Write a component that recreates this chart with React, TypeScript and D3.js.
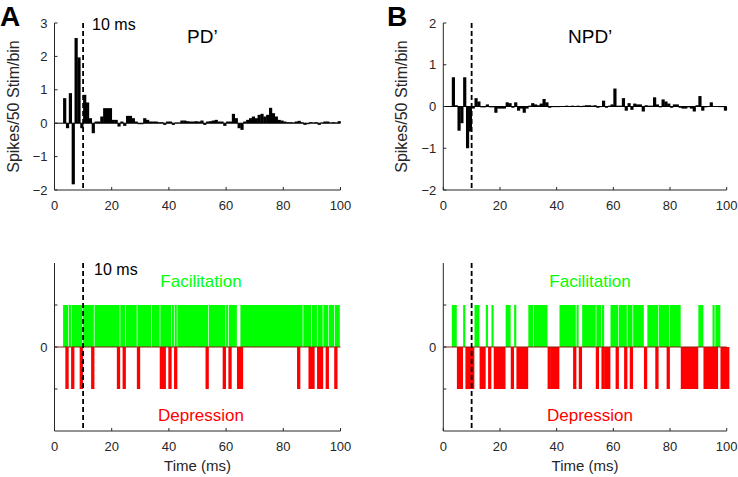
import React from "react";
import * as d3 from "d3";

// ---------- data ----------
const binStart = 3; // first 1-ms bin starts at 3 ms
const pdValues = [
  0.75, -0.15, 0.9, -1.83, 2.55, 1.97, -0.15, 0.85, 0.62, 0.15,
  -0.3, 0.05, 0.05, 0.2, 0.45, 0.45, 0.45, 0.1, 0.1, -0.1,
  0.05, -0.08, 0.22, 0.22, 0.15, 0.05, -0.03, -0.03, 0.15, 0.1,
  0.05, 0.05, 0.05, 0.03, 0.03, -0.05, 0.05, 0.05, -0.05, 0.02,
  0.02, 0.08, 0.08, 0.06, 0.05, 0.05, 0.06, 0.05, 0.08, -0.05,
  0.05, 0.06, 0.08, 0.1, 0.05, 0.05, -0.08, 0.05, 0.05, 0.28,
  0.15, -0.15, -0.2, 0.05, 0.1, 0.15, 0.2, 0.15, 0.25, 0.28,
  0.2, 0.25, 0.46, 0.3, 0.2, 0.1, 0.08, 0.05, 0.03, 0.03,
  0.02, 0.05, 0.07, 0.03, -0.05, -0.03, 0.03, 0.02, 0.03, -0.05,
  0.02, 0.05, 0.05, 0.02, 0.03, 0.02, 0.06,
];
const npdValues = [
  0.7, 0.03, -0.58, -0.4, 0.7, -1.0, -0.6, -0.05, 0.2, 0.12,
  -0.02, -0.02, 0.05, -0.02, -0.02, -0.15, -0.05, -0.05, -0.05, 0.1,
  0.08, -0.03, 0.1, -0.1, -0.05, -0.15, -0.05, 0.02, 0.08, 0.05,
  0.03, 0.07, 0.18, 0.1, -0.03, -0.01, -0.01, -0.01, 0.01, 0.01,
  0.02, 0.01, 0.02, 0.01, 0.02, -0.01, 0.02, 0.03, 0.03, 0.02,
  0.03, -0.03, 0.0, 0.14, -0.03, 0.02, 0.05, 0.43, 0.02, 0.02,
  0.2, -0.1, 0.08, -0.08, 0.07, 0.05, 0.05, -0.12, 0.03, 0.02,
  0.02, 0.22, 0.05, -0.02, 0.17, 0.12, 0.07, -0.03, 0.05, 0.05,
  -0.03, -0.05, -0.05, -0.02, -0.05, -0.12, 0.03, 0.25, -0.1, -0.02,
  0.01, 0.1, 0.01, 0.01, 0.0, 0.0, -0.1,
];

// raster runs: [first bin, last bin] (ms, inclusive, 1-ms bins)
const pdFacilitation = [
  [3, 4], [5, 5], [6, 9], [10, 13], [14, 22], [23, 24], [25, 28], [29, 33],
  [34, 36], [37, 40], [41, 41], [42, 42], [43, 53], [54, 59], [60, 60],
  [61, 63], [65, 86], [87, 89], [90, 91], [92, 93], [94, 95], [96, 97], [98, 99],
];
const pdDepression = [
  [4, 4], [6, 6], [9, 9], [13, 13], [22, 22], [24, 24], [29, 29], [37, 37],
  [38, 38], [40, 40], [42, 42], [53, 53], [59, 59], [61, 61], [64, 65],
  [85, 85], [89, 90], [92, 93], [95, 95], [98, 98],
];
const npdFacilitation = [
  [3, 4], [7, 7], [11, 12], [15, 15], [17, 17], [22, 23], [25, 25], [30, 31],
  [32, 36], [41, 46], [47, 47], [49, 53], [54, 55], [56, 56], [59, 61],
  [62, 64], [65, 66], [67, 70], [72, 75], [76, 79], [80, 83], [90, 91],
  [95, 95], [96, 97],
];
const npdDepression = [
  [5, 6], [8, 10], [13, 14], [16, 16], [18, 21], [24, 24], [26, 29], [37, 37],
  [38, 40], [46, 46], [48, 48], [54, 54], [56, 56], [57, 58], [61, 61],
  [64, 64], [66, 66], [71, 71], [75, 75], [79, 79], [84, 89], [92, 94],
  [95, 96], [98, 100],
];

const xTicks = [0, 20, 40, 60, 80, 100];
const pdYTicks = [-2, -1, 0, 1, 2, 3];
const npdYTicks = [-2, -1, 0, 1, 2];
const rasterYTicks = [-1, 0, 1];
const rasterYLabels = ["", "0", ""];
const markerMs = 10;

// ---------- layout ----------
const W = 738;
const H = 477;
const FONT = "Liberation Sans, Arial, Helvetica, sans-serif";
const AX = "#262626";
const cols = [
  { x0: 54.5, x1: 340.5 },
  { x0: 443.3, x1: 726.7 },
];
const topRow = { y0: 23, y1: 190 };
const botRow = { y0: 263, y1: 431 };

const fmt = (v: number) => (v < 0 ? "\u2212" + Math.abs(v) : String(v));

function Axes({ x, y, yTicks, yLabels, top, bottom }: any) {
  const [r0, r1] = x.range();
  const tl = 3;
  return (
    <g>
      <line x1={r0} x2={r0} y1={top} y2={bottom} stroke={AX} strokeWidth={1} />
      <line x1={r0} x2={r1} y1={bottom} y2={bottom} stroke={AX} strokeWidth={1} />
      {xTicks.map((t) => (
        <g key={"x" + t}>
          <line x1={x(t)} x2={x(t)} y1={bottom} y2={bottom - tl} stroke={AX} />
          <text x={x(t)} y={bottom + 20} textAnchor="middle" fontSize={13} fill={AX} fontFamily={FONT}>
            {t}
          </text>
        </g>
      ))}
      {yTicks.map((t: number, i: number) => (
        <g key={"y" + t}>
          <line x1={r0} x2={r0 + tl} y1={y(t)} y2={y(t)} stroke={AX} />
          <text x={r0 - 7} y={y(t)} dy="0.36em" textAnchor="end" fontSize={13} fill={AX} fontFamily={FONT}>
            {yLabels ? yLabels[i] : fmt(t)}
          </text>
        </g>
      ))}
    </g>
  );
}

function Hist({ col, values, yDomain, yTicks, title, titleX, letter, letterX }: any) {
  const x = d3.scaleLinear().domain([0, 100]).range([col.x0, col.x1]);
  const y = d3.scaleLinear().domain(yDomain).range([topRow.y1, topRow.y0]);
  return (
    <g>
      {values.map((v: number, i: number) => {
        const t = binStart + i;
        const ya = y(Math.max(0, v));
        const yb = y(Math.min(0, v));
        return (
          <rect key={i} x={x(t)} width={x(t + 1) - x(t) + 0.35} y={ya} height={Math.max(0.6, yb - ya)} fill="#000" />
        );
      })}
      <line x1={x(0)} x2={x(100)} y1={y(0)} y2={y(0)} stroke="#000" strokeWidth={1} />
      <Axes x={x} y={y} yTicks={yTicks} top={topRow.y0} bottom={topRow.y1} />
      <line x1={x(markerMs)} x2={x(markerMs)} y1={topRow.y0} y2={topRow.y1} stroke="#000" strokeWidth={1.8} strokeDasharray="5,3" />
      <text x={titleX} y={43} fontSize={19} fontFamily={FONT} fill="#000">{title}</text>
      <text
        transform={`translate(${col.x0 - 36},${(topRow.y0 + topRow.y1) / 2}) rotate(-90)`}
        textAnchor="middle" fontSize={16} fontFamily={FONT} fill={AX}
      >
        Spikes/50 Stim/bin
      </text>
      <text x={letterX} y={26} fontSize={28} fontWeight="bold" fontFamily={FONT} fill="#000">{letter}</text>
    </g>
  );
}

function Raster({ col, facil, depr, labelCx, showMs }: any) {
  const x = d3.scaleLinear().domain([0, 100]).range([col.x0, col.x1]);
  const y = d3.scaleLinear().domain([-2, 2]).range([botRow.y1, botRow.y0]);
  const runRect = (r: number[], up: boolean, color: string, k: number, pad: number) => {
    const xa = x(r[0] - pad);
    const xb = x(r[1] + 1 + pad);
    return (
      <rect key={k} x={xa} width={Math.max(0.5, xb - xa - 0.7)} y={up ? y(1) : y(0)} height={up ? y(0) - y(1) : y(-1) - y(0)} fill={color} />
    );
  };
  return (
    <g>
      {facil.map((r: number[], i: number) => runRect(r, true, "#00ff00", i, 0))}
      {depr.map((r: number[], i: number) => runRect(r, false, "#ff0000", 1000 + i, 0.2))}
      <line x1={x(0)} x2={x(100)} y1={y(0)} y2={y(0)} stroke="#8c1c13" strokeWidth={1} />
      <Axes x={x} y={y} yTicks={rasterYTicks} yLabels={rasterYLabels} top={botRow.y0} bottom={botRow.y1} />
      <line x1={x(markerMs)} x2={x(markerMs)} y1={botRow.y0} y2={botRow.y1} stroke="#000" strokeWidth={1.8} strokeDasharray="5,3" />
      {showMs && (
        <text x={x(markerMs) + 11} y={275} fontSize={16} fontFamily={FONT} fill="#000">10 ms</text>
      )}
      <text x={labelCx} y={287} textAnchor="middle" fontSize={17} fontFamily={FONT} fill="#00ff00">Facilitation</text>
      <text x={labelCx} y={421} textAnchor="middle" fontSize={17} fontFamily={FONT} fill="#ff0000">Depression</text>
      <text x={(col.x0 + col.x1) / 2} y={471} textAnchor="middle" fontSize={15} fontFamily={FONT} fill={AX}>Time (ms)</text>
    </g>
  );
}

export default function App() {
  const xl = d3.scaleLinear().domain([0, 100]).range([cols[0].x0, cols[0].x1]);
  return (
    <svg width={W} height={H} viewBox={`0 0 ${W} ${H}`} style={{ position: "absolute", left: 0, top: 0, background: "#fff" }}>
      <rect width={W} height={H} fill="#fff" />
      <Hist col={cols[0]} values={pdValues} yDomain={[-2, 3]} yTicks={pdYTicks} title={"PD\u2019"} titleX={187} letter="A" letterX={0} />
      <text x={xl(markerMs) + 9} y={30} fontSize={16} fontFamily={FONT} fill="#000">10 ms</text>
      <Hist col={cols[1]} values={npdValues} yDomain={[-2, 2]} yTicks={npdYTicks} title={"NPD\u2019"} titleX={568} letter="B" letterX={387} />
      <Raster col={cols[0]} facil={pdFacilitation} depr={pdDepression} labelCx={201} showMs={true} />
      <Raster col={cols[1]} facil={npdFacilitation} depr={npdDepression} labelCx={590} showMs={false} />
    </svg>
  );
}
